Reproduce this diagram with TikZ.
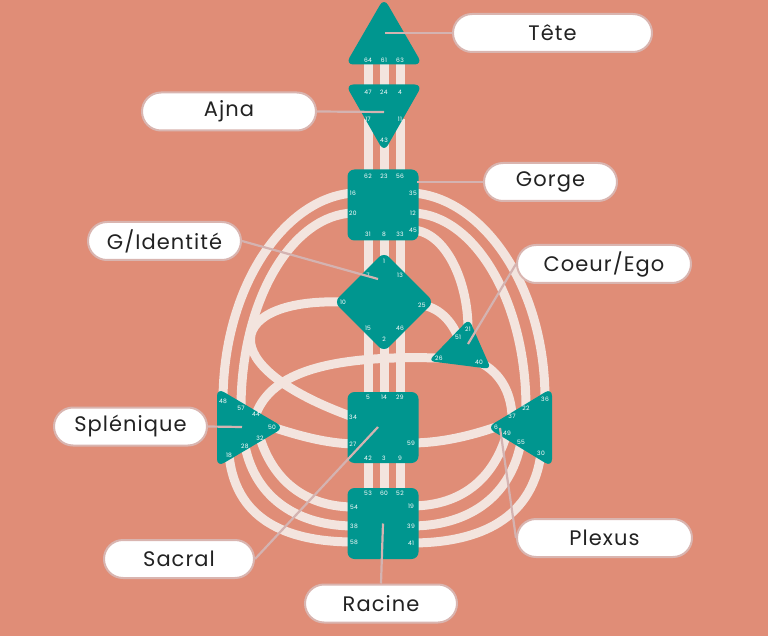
\documentclass[tikz,border=0pt]{standalone}
\usepackage{fontspec}
\setmainfont{Poppins}[LetterSpace=5]
\usetikzlibrary{shapes.geometric, positioning}
\definecolor{salmon}{HTML}{E08D77}
\definecolor{centerteal}{HTML}{00968F}
\definecolor{chan}{HTML}{F3E4DE}
\definecolor{pinline}{HTML}{D4B3B1}
\definecolor{pillrim}{HTML}{D9B5B0}
\definecolor{labeltext}{HTML}{222222}

\def\gatelist{64/368/60, 61/384/60, 63/400/60,
  47/368/92, 24/384/92, 4/400/92, 17/368/119, 11/400/119, 43/384/140,
  62/368/176, 23/384/176, 56/400/176, 16/353/193, 20/353/213, 35/413/193, 12/413/213, 45/413/230, 31/368/234, 8/384/234, 33/400/234,
  1/384/261, 7/368/275, 13/400/275, 10/343/302, 25/422/305, 15/368/328, 46/400/328, 2/384/339,
  21/468/329, 51/458/337, 26/439/358, 40/479/362,
  48/223/401, 57/241/408, 44/256/414, 50/272/427, 32/260/438, 28/245/446, 18/229/455,
  5/368/397, 14/384/397, 29/400/397, 34/353/417, 27/353/444, 59/411/443, 42/368/458, 3/384/458, 9/400/458,
  53/368/493, 60/384/493, 52/400/493, 54/354/507, 38/354/526, 58/354/542, 19/411/506, 39/411/526, 41/411/543,
  36/545/399, 22/526/408, 37/512/416, 6/496/427, 49/507/433, 55/521/442, 30/541/453}

\begin{document}
\begin{tikzpicture}[
    x=1pt, y=-1pt,
    channel/.style={draw=chan, line width=9pt},
    sqcenter/.style={rectangle, rounded corners=7pt, fill=centerteal, minimum size=71pt, inner sep=0pt},
    gcenter/.style={diamond, aspect=1, rounded corners=7pt, fill=centerteal, minimum width=100pt, minimum height=100pt, inner sep=0pt},
    tricenter/.style={fill=centerteal, rounded corners=8pt},
    gate/.style={text=white, font=\fontsize{6}{6}\selectfont, inner sep=0pt},
    pill/.style={rectangle, rounded corners=19pt, draw=pillrim, line width=2pt, fill=white, minimum height=38pt, font=\fontsize{21}{24}\selectfont, text=labeltext},
    pin/.style={draw=pinline, line width=2.2pt}
]
\fill[salmon] (0,0) rectangle (768,636);
\useasboundingbox (0,0) rectangle (768,636);

% Gates
\foreach \g/\x/\y in \gatelist {\coordinate (g\g) at (\x,\y);}

% Channels
\foreach \a/\b in {64/47, 61/24, 63/4, 17/62, 43/23, 11/56, 31/7, 8/1, 33/13, 15/5, 2/14, 46/29, 42/53, 3/60, 9/52}
  \draw[channel] (g\a) -- (g\b);
\draw[channel] (g16) .. controls (285,198) and (223,286) .. (g48);
\draw[channel] (g20) .. controls (292,215) and (241,300) .. (g57);
\draw[channel] (g10) .. controls (228,298) and (208,365) .. (g34);
\draw[channel] (g35) .. controls (482,198) and (545,285) .. (g36);
\draw[channel] (g12) .. controls (474,215) and (526,300) .. (g22);
\draw[channel] (g45) .. controls (445,232) and (468,280) .. (g21);
\draw[channel] (g25) .. controls (440,308) and (452,322) .. (g51);
\draw[channel] (g26) .. controls (330,355) and (272,372) .. (g44);
\draw[channel] (g40) .. controls (500,372) and (511,392) .. (g37);
\draw[channel] (g50) .. controls (300,436) and (325,443) .. (g27);
\draw[channel] (g59) .. controls (440,443) and (470,436) .. (g6);
\draw[channel] (g18) .. controls (236,525) and (295,542) .. (g58);
\draw[channel] (g28) .. controls (256,500) and (300,526) .. (g38);
\draw[channel] (g32) .. controls (275,485) and (310,507) .. (g54);
\draw[channel] (g30) .. controls (532,525) and (470,543) .. (g41);
\draw[channel] (g55) .. controls (510,500) and (465,526) .. (g39);
\draw[channel] (g49) .. controls (492,485) and (455,506) .. (g19);

% Centers
\fill[tricenter] (384,-2) -- (422.5,64.5) -- (345.5,64.5) -- cycle;
\fill[tricenter] (345.5,84.5) -- (422.5,84.5) -- (384,152) -- cycle;
\node[sqcenter] (throat) at (383,205) {};
\node[gcenter] (gself) at (384,302) {};
\fill[tricenter, rounded corners=6pt] (469,319) -- (491,369) -- (428.5,361) -- cycle;
\fill[tricenter] (217,388) -- (284,427.5) -- (217,467) -- cycle;
\fill[tricenter] (552,388) -- (552,467) -- (487,427.5) -- cycle;
\node[sqcenter] (sacral) at (383,427.5) {};
\node[sqcenter] (root) at (383,523.5) {};

\foreach \g/\x/\y in \gatelist {\node[gate] (n\g) at (g\g) {\g};}

% Labels
\node[pill, minimum width=199pt] (tete) at (552.5,33) {Tête};
\node[pill, minimum width=174pt] (ajna) at (229,111.5) {Ajna};
\node[pill, minimum width=133pt] (gorge) at (550.5,182) {Gorge};
\node[pill, minimum width=153pt] (gident) at (164.5,241) {G/Identité};
\node[pill, minimum width=174pt] (coeur) at (604,264) {Coeur/Ego};
\node[pill, minimum width=153pt] (splen) at (130.5,426.5) {Splénique};
\node[pill, minimum width=175pt] (plexus) at (604.5,538) {Plexus};
\node[pill, minimum width=150pt] (sacrallbl) at (179,559) {Sacral};
\node[pill, minimum width=152pt] (racine) at (381,603.5) {Racine};

% Leaders
\coordinate (tetepin) at (385,33);
\coordinate (ajnapin) at (384,112);
\coordinate (gorgepin) at (417,182);
\coordinate (gpin) at (378,279);
\coordinate (coeurpin) at (468,344);
\coordinate (splenpin) at (242,427);
\coordinate (sacralpin) at (378,427);
\coordinate (plexuspin) at (500,428);
\draw[pin] (tetepin) -- (tete.west);
\draw[pin] (ajna.east) -- (ajnapin);
\draw[pin] (gorgepin) -- (gorge.west);
\draw[pin] (gident.east) -- (gpin);
\draw[pin] (coeur.west) -- (coeurpin);
\draw[pin] (splen.east) -- (splenpin);
\draw[pin] (sacrallbl.east) -- (sacralpin);
\draw[pin] (plexus.west) -- (plexuspin);
\draw[pin] (root.center) -- (racine.north);
\end{tikzpicture}
\end{document}
